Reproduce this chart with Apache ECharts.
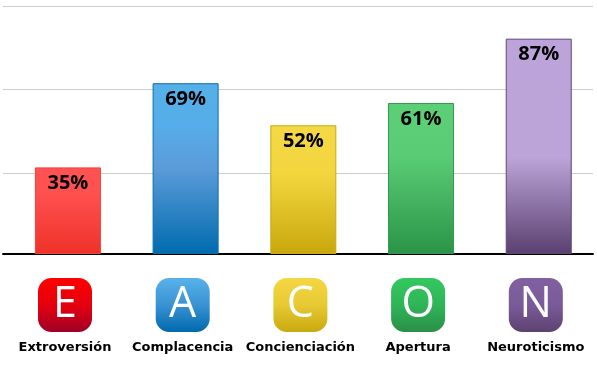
<!DOCTYPE html>
<html><head><meta charset="utf-8">
<style>html,body{margin:0;padding:0;background:#fff}#c{width:597px;height:370px}</style>
<script src="https://cdn.jsdelivr.net/npm/echarts@6/dist/echarts.min.js"></script>
</head><body><div id="c"></div>
<script>
const categories = ['Extroversión','Complacencia','Concienciación','Apertura','Neuroticismo'];
const letters = ['E','A','C','O','N'];
const values = [35,69,52,61,87];
const gridTicks = [32.8,66.4,100];

const barBorders = ['#f2403a','#0a6cb0','#c9a90f','#2f9a4f','#5e4678'];
const barStops = [
  [[0,'#ff5252'],[0.3,'#ff5050'],[1,'#ee3228']],
  [[0,'#55b0e8'],[0.25,'#56ade9'],[0.5,'#5b9bd9'],[1,'#006bae']],
  [[0,'#f4d844'],[0.38,'#f3d63e'],[1,'#c8a80c']],
  [[0,'#5bcf76'],[0.35,'#5bcc76'],[1,'#2a9447']],
  [[0,'#bca4da'],[0.55,'#bca4d8'],[1,'#5a4070']]
];
const iconStops = [
  [[0,'#ff0000'],[0.55,'#e00010'],[1,'#9e0027']],
  [[0,'#58b2ea'],[0.5,'#3a92d2'],[1,'#0069ae']],
  [[0,'#f4d742'],[0.5,'#e6c933'],[1,'#c9a90f']],
  [[0,'#34c75f'],[0.5,'#2fb558'],[1,'#2a8f47']],
  [[0,'#8160a0'],[0.5,'#7a5b9a'],[1,'#5c426f']]
];
const grad = s => new echarts.graphic.LinearGradient(0,0,0,1,s.map(p=>({offset:p[0],color:p[1]})));

const chart = echarts.init(document.getElementById('c'),null,{renderer:'canvas'});
chart.setOption({
  animation:false,
  backgroundColor:'#fff',
  grid:[
    {left:3,right:4,top:6.5,bottom:116},
    {left:3,right:4,top:278,bottom:38}
  ],
  xAxis:[
    {gridIndex:0,type:'value',min:-0.5515,max:4.461,
     axisLine:{show:true,onZero:false,lineStyle:{color:'#000',width:2}},
     axisTick:{show:false},axisLabel:{show:false},splitLine:{show:false}},
    {gridIndex:1,type:'value',min:-0.5268,max:4.486,
     axisLine:{show:false},axisTick:{show:false},splitLine:{show:false},
     axisLabel:{show:true,customValues:categories.map((c,i)=>i),
       formatter:v=>categories[v],margin:9,hideOverlap:false,
       color:'#000',fontFamily:'DejaVu Sans',fontWeight:'bold',fontSize:13}}
  ],
  yAxis:[
    {gridIndex:0,type:'value',min:0,max:100,
     axisLine:{show:false},axisTick:{show:false,customValues:gridTicks},
     axisLabel:{show:false,customValues:gridTicks},
     splitLine:{show:true,lineStyle:{color:'#cccccc',width:1}}},
    {gridIndex:1,type:'value',min:0,max:1,show:false}
  ],
  series:[
    {type:'bar',xAxisIndex:0,yAxisIndex:0,barWidth:66,
     data:values.map((v,i)=>({value:[i,v],
       itemStyle:{color:grad(barStops[i]),borderColor:barBorders[i],borderWidth:1}})),
     label:{show:true,position:'insideTop',distance:6,formatter:p=>p.value[1]+'%',
       color:'#000',fontFamily:'Open Sans',fontWeight:'bold',fontSize:20}},
    {type:'scatter',xAxisIndex:1,yAxisIndex:1,symbol:'roundRect',symbolSize:54,
     data:letters.map((l,i)=>({value:[i,0.5],name:l,itemStyle:{color:grad(iconStops[i]),opacity:1}})),
     label:{show:true,position:'inside',formatter:p=>p.name,color:'#fff',
       fontFamily:'Open Sans',fontWeight:400,fontSize:43}}
  ]
});
</script></body></html>
